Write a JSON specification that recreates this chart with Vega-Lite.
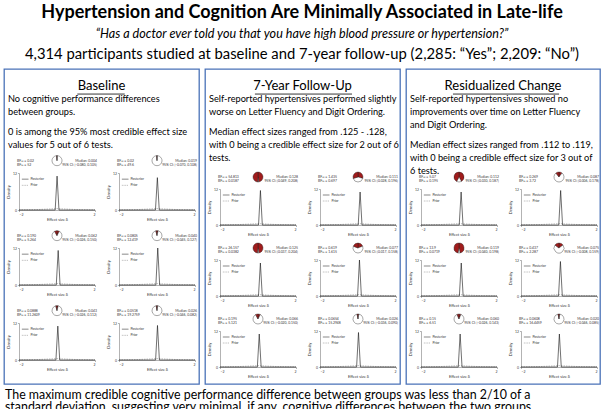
{
  "$schema": "https://vega.github.io/schema/vega-lite/v6.json",
  "background": "white",
  "padding": {"left": 3, "top": 2, "right": 0, "bottom": 0},
  "config": {
    "font": "Lato",
    "view": {"stroke": null},
    "header": {"labels": false, "title": null},
    "headerFacet": {"labels": false, "title": null},
    "axis": {"labelFontSize": 3.5, "titleFontSize": 4, "labelColor": "#444", "titleColor": "#333", "domainColor": "#666", "tickColor": "#666", "tickSize": 1.5, "labelPadding": 1, "titlePadding": 1.5, "domainWidth": 0.5, "tickWidth": 0.5, "grid": false, "titleFontWeight": "normal"}
  },
  "datasets": {
    "hdr": [
      {"line": 1, "text": "Hypertension and Cognition Are Minimally Associated in Late-life"},
      {"line": 2, "text": "“Has a doctor ever told you that you have high blood pressure or hypertension?”"},
      {"line": 3, "text": "4,314 participants studied at baseline and 7-year follow-up (2,285: “Yes”; 2,209: “No”)"}
    ],
    "ptext": [
      {"panel": "B", "line": 0, "para": 0, "text": "Baseline"},
      {"panel": "B", "line": 1, "para": 1, "text": "No cognitive performance differences"},
      {"panel": "B", "line": 2, "para": 1, "text": "between groups."},
      {"panel": "B", "line": 3, "para": 2, "text": "0 is among the 95% most credible effect size"},
      {"panel": "B", "line": 4, "para": 2, "text": "values for 5 out of 6 tests."},
      {"panel": "F", "line": 0, "para": 0, "text": "7-Year Follow-Up"},
      {"panel": "F", "line": 1, "para": 1, "text": "Self-reported hypertensives performed slightly"},
      {"panel": "F", "line": 2, "para": 1, "text": "worse on Letter Fluency and Digit Ordering."},
      {"panel": "F", "line": 3, "para": 2, "text": "Median effect sizes ranged from .125 - .128,"},
      {"panel": "F", "line": 4, "para": 2, "text": "with 0 being a credible effect size for 2 out of 6"},
      {"panel": "F", "line": 5, "para": 2, "text": "tests."},
      {"panel": "R", "line": 0, "para": 0, "text": "Residualized Change"},
      {"panel": "R", "line": 1, "para": 1, "text": "Self-reported hypertensives showed no"},
      {"panel": "R", "line": 2, "para": 1, "text": "improvements over time on Letter Fluency"},
      {"panel": "R", "line": 3, "para": 1, "text": "and Digit Ordering."},
      {"panel": "R", "line": 4, "para": 2, "text": "Median effect sizes ranged from .112 to .119,"},
      {"panel": "R", "line": 5, "para": 2, "text": "with 0 being a credible effect size for 3 out of"},
      {"panel": "R", "line": 6, "para": 2, "text": "6 tests."}
    ],
    "foot": [
      {"line": 1, "text": "The maximum credible cognitive performance difference between groups was less than 2/10 of a"},
      {"line": 2, "text": "standard deviation, suggesting very minimal, if any, cognitive differences between the two groups."}
    ],
    "plots": [
      {"p":"B","t":1,"k":"st","bf":"BF₁₀ = 0.02\nBF₀₁ = 52","md":"Median: 0.004\n95% CI: [-0.080, 0.105]"},
      {"p":"B","t":2,"k":"st","bf":"BF₁₀ = 0.02\nBF₀₁ = 49.6","md":"Median: 0.019\n95% CI: [-0.070, 0.108]"},
      {"p":"B","t":3,"k":"st","bf":"BF₁₀ = 0.190\nBF₀₁ = 5.264","md":"Median: 0.062\n95% CI: [-0.026, 0.150]"},
      {"p":"B","t":4,"k":"st","bf":"BF₁₀ = 0.0805\nBF₀₁ = 12.419","md":"Median: 0.040\n95% CI: [-0.045, 0.127]"},
      {"p":"B","t":5,"k":"st","bf":"BF₁₀ = 0.0888\nBF₀₁ = 11.2609","md":"Median: 0.043\n95% CI: [-0.026, 0.112]"},
      {"p":"B","t":6,"k":"st","bf":"BF₁₀ = 0.0518\nBF₀₁ = 19.2759","md":"Median: 0.026\n95% CI: [-0.046, 0.082]"},
      {"p":"F","t":1,"k":"st","bf":"BF₁₀ = 54.813\nBF₀₁ = 0.0187","md":"Median: 0.128\n95% CI: [0.049, 0.208]"},
      {"p":"F","t":2,"k":"st","bf":"BF₁₀ = 1.435\nBF₀₁ = 0.697","md":"Median: 0.111\n95% CI: [0.028, 0.196]"},
      {"p":"F","t":3,"k":"st","bf":"BF₁₀ = 26.157\nBF₀₁ = 0.0382","md":"Median: 0.125\n95% CI: [0.037, 0.204]"},
      {"p":"F","t":4,"k":"st","bf":"BF₁₀ = 0.619\nBF₀₁ = 1.615","md":"Median: 0.077\n95% CI: [0.017, 0.158]"},
      {"p":"F","t":5,"k":"st","bf":"BF₁₀ = 0.195\nBF₀₁ = 5.121","md":"Median: 0.066\n95% CI: [-0.020, 0.150]"},
      {"p":"F","t":6,"k":"st","bf":"BF₁₀ = 0.0654\nBF₀₁ = 15.2948","md":"Median: 0.026\n95% CI: [-0.036, 0.090]"},
      {"p":"R","t":1,"k":"st","bf":"BF₁₀ = 5.07\nBF₀₁ = 0.195","md":"Median: 0.112\n95% CI: [0.030, 0.187]"},
      {"p":"R","t":2,"k":"st","bf":"BF₁₀ = 0.269\nBF₀₁ = 3.72","md":"Median: 0.087\n95% CI: [0.006, 0.178]"},
      {"p":"R","t":3,"k":"st","bf":"BF₁₀ = 13.9\nBF₀₁ = 0.0719","md":"Median: 0.119\n95% CI: [0.040, 0.198]"},
      {"p":"R","t":4,"k":"st","bf":"BF₁₀ = 0.437\nBF₀₁ = 2.287","md":"Median: 0.075\n95% CI: [-0.008, 0.159]"},
      {"p":"R","t":5,"k":"st","bf":"BF₁₀ = 0.15\nBF₀₁ = 6.51","md":"Median: 0.060\n95% CI: [-0.026, 0.143]"},
      {"p":"R","t":6,"k":"st","bf":"BF₁₀ = 0.0608\nBF₀₁ = 16.4459","md":"Median: 0.020\n95% CI: [-0.046, 0.085]"},

      {"p":"B","t":1,"k":"po","x":-2,"y":0},{"p":"B","t":1,"k":"po","x":-0.096,"y":0},{"p":"B","t":1,"k":"po","x":0.004,"y":11},{"p":"B","t":1,"k":"po","x":0.104,"y":0},{"p":"B","t":1,"k":"po","x":2,"y":0},
      {"p":"B","t":2,"k":"po","x":-2,"y":0},{"p":"B","t":2,"k":"po","x":-0.081,"y":0},{"p":"B","t":2,"k":"po","x":0.019,"y":10.5},{"p":"B","t":2,"k":"po","x":0.119,"y":0},{"p":"B","t":2,"k":"po","x":2,"y":0},
      {"p":"B","t":3,"k":"po","x":-2,"y":0},{"p":"B","t":3,"k":"po","x":-0.038,"y":0},{"p":"B","t":3,"k":"po","x":0.062,"y":11.2},{"p":"B","t":3,"k":"po","x":0.162,"y":0},{"p":"B","t":3,"k":"po","x":2,"y":0},
      {"p":"B","t":4,"k":"po","x":-2,"y":0},{"p":"B","t":4,"k":"po","x":-0.06,"y":0},{"p":"B","t":4,"k":"po","x":0.04,"y":12},{"p":"B","t":4,"k":"po","x":0.14,"y":0},{"p":"B","t":4,"k":"po","x":2,"y":0},
      {"p":"B","t":5,"k":"po","x":-2,"y":0},{"p":"B","t":5,"k":"po","x":-0.057,"y":0},{"p":"B","t":5,"k":"po","x":0.043,"y":11},{"p":"B","t":5,"k":"po","x":0.143,"y":0},{"p":"B","t":5,"k":"po","x":2,"y":0},
      {"p":"B","t":6,"k":"po","x":-2,"y":0},{"p":"B","t":6,"k":"po","x":-0.074,"y":0},{"p":"B","t":6,"k":"po","x":0.026,"y":11.2},{"p":"B","t":6,"k":"po","x":0.126,"y":0},{"p":"B","t":6,"k":"po","x":2,"y":0},
      {"p":"F","t":1,"k":"po","x":-2,"y":0},{"p":"F","t":1,"k":"po","x":0.028,"y":0},{"p":"F","t":1,"k":"po","x":0.128,"y":11.5},{"p":"F","t":1,"k":"po","x":0.228,"y":0},{"p":"F","t":1,"k":"po","x":2,"y":0},
      {"p":"F","t":2,"k":"po","x":-2,"y":0},{"p":"F","t":2,"k":"po","x":0.011,"y":0},{"p":"F","t":2,"k":"po","x":0.111,"y":11},{"p":"F","t":2,"k":"po","x":0.211,"y":0},{"p":"F","t":2,"k":"po","x":2,"y":0},
      {"p":"F","t":3,"k":"po","x":-2,"y":0},{"p":"F","t":3,"k":"po","x":0.025,"y":0},{"p":"F","t":3,"k":"po","x":0.125,"y":11},{"p":"F","t":3,"k":"po","x":0.225,"y":0},{"p":"F","t":3,"k":"po","x":2,"y":0},
      {"p":"F","t":4,"k":"po","x":-2,"y":0},{"p":"F","t":4,"k":"po","x":-0.023,"y":0},{"p":"F","t":4,"k":"po","x":0.077,"y":12},{"p":"F","t":4,"k":"po","x":0.177,"y":0},{"p":"F","t":4,"k":"po","x":2,"y":0},
      {"p":"F","t":5,"k":"po","x":-2,"y":0},{"p":"F","t":5,"k":"po","x":-0.034,"y":0},{"p":"F","t":5,"k":"po","x":0.066,"y":11},{"p":"F","t":5,"k":"po","x":0.166,"y":0},{"p":"F","t":5,"k":"po","x":2,"y":0},
      {"p":"F","t":6,"k":"po","x":-2,"y":0},{"p":"F","t":6,"k":"po","x":-0.074,"y":0},{"p":"F","t":6,"k":"po","x":0.026,"y":11.5},{"p":"F","t":6,"k":"po","x":0.126,"y":0},{"p":"F","t":6,"k":"po","x":2,"y":0},
      {"p":"R","t":1,"k":"po","x":-2,"y":0},{"p":"R","t":1,"k":"po","x":0.012,"y":0},{"p":"R","t":1,"k":"po","x":0.112,"y":11},{"p":"R","t":1,"k":"po","x":0.212,"y":0},{"p":"R","t":1,"k":"po","x":2,"y":0},
      {"p":"R","t":2,"k":"po","x":-2,"y":0},{"p":"R","t":2,"k":"po","x":-0.013,"y":0},{"p":"R","t":2,"k":"po","x":0.087,"y":11.5},{"p":"R","t":2,"k":"po","x":0.187,"y":0},{"p":"R","t":2,"k":"po","x":2,"y":0},
      {"p":"R","t":3,"k":"po","x":-2,"y":0},{"p":"R","t":3,"k":"po","x":0.019,"y":0},{"p":"R","t":3,"k":"po","x":0.119,"y":11},{"p":"R","t":3,"k":"po","x":0.219,"y":0},{"p":"R","t":3,"k":"po","x":2,"y":0},
      {"p":"R","t":4,"k":"po","x":-2,"y":0},{"p":"R","t":4,"k":"po","x":-0.025,"y":0},{"p":"R","t":4,"k":"po","x":0.075,"y":11.5},{"p":"R","t":4,"k":"po","x":0.175,"y":0},{"p":"R","t":4,"k":"po","x":2,"y":0},
      {"p":"R","t":5,"k":"po","x":-2,"y":0},{"p":"R","t":5,"k":"po","x":-0.04,"y":0},{"p":"R","t":5,"k":"po","x":0.06,"y":11},{"p":"R","t":5,"k":"po","x":0.16,"y":0},{"p":"R","t":5,"k":"po","x":2,"y":0},
      {"p":"R","t":6,"k":"po","x":-2,"y":0},{"p":"R","t":6,"k":"po","x":-0.08,"y":0},{"p":"R","t":6,"k":"po","x":0.02,"y":11},{"p":"R","t":6,"k":"po","x":0.12,"y":0},{"p":"R","t":6,"k":"po","x":2,"y":0},

      {"p":"B","t":1,"k":"pr","x":-2,"y":0.05},{"p":"B","t":1,"k":"pr","x":-1,"y":0.15},{"p":"B","t":1,"k":"pr","x":0,"y":0.45},{"p":"B","t":1,"k":"pr","x":1,"y":0.15},{"p":"B","t":1,"k":"pr","x":2,"y":0.05},
      {"p":"B","t":2,"k":"pr","x":-2,"y":0.05},{"p":"B","t":2,"k":"pr","x":-1,"y":0.15},{"p":"B","t":2,"k":"pr","x":0,"y":0.45},{"p":"B","t":2,"k":"pr","x":1,"y":0.15},{"p":"B","t":2,"k":"pr","x":2,"y":0.05},
      {"p":"B","t":3,"k":"pr","x":-2,"y":0.05},{"p":"B","t":3,"k":"pr","x":-1,"y":0.15},{"p":"B","t":3,"k":"pr","x":0,"y":0.45},{"p":"B","t":3,"k":"pr","x":1,"y":0.15},{"p":"B","t":3,"k":"pr","x":2,"y":0.05},
      {"p":"B","t":4,"k":"pr","x":-2,"y":0.05},{"p":"B","t":4,"k":"pr","x":-1,"y":0.15},{"p":"B","t":4,"k":"pr","x":0,"y":0.45},{"p":"B","t":4,"k":"pr","x":1,"y":0.15},{"p":"B","t":4,"k":"pr","x":2,"y":0.05},
      {"p":"B","t":5,"k":"pr","x":-2,"y":0.05},{"p":"B","t":5,"k":"pr","x":-1,"y":0.15},{"p":"B","t":5,"k":"pr","x":0,"y":0.45},{"p":"B","t":5,"k":"pr","x":1,"y":0.15},{"p":"B","t":5,"k":"pr","x":2,"y":0.05},
      {"p":"B","t":6,"k":"pr","x":-2,"y":0.05},{"p":"B","t":6,"k":"pr","x":-1,"y":0.15},{"p":"B","t":6,"k":"pr","x":0,"y":0.45},{"p":"B","t":6,"k":"pr","x":1,"y":0.15},{"p":"B","t":6,"k":"pr","x":2,"y":0.05},
      {"p":"F","t":1,"k":"pr","x":-2,"y":0.05},{"p":"F","t":1,"k":"pr","x":-1,"y":0.15},{"p":"F","t":1,"k":"pr","x":0,"y":0.45},{"p":"F","t":1,"k":"pr","x":1,"y":0.15},{"p":"F","t":1,"k":"pr","x":2,"y":0.05},
      {"p":"F","t":2,"k":"pr","x":-2,"y":0.05},{"p":"F","t":2,"k":"pr","x":-1,"y":0.15},{"p":"F","t":2,"k":"pr","x":0,"y":0.45},{"p":"F","t":2,"k":"pr","x":1,"y":0.15},{"p":"F","t":2,"k":"pr","x":2,"y":0.05},
      {"p":"F","t":3,"k":"pr","x":-2,"y":0.05},{"p":"F","t":3,"k":"pr","x":-1,"y":0.15},{"p":"F","t":3,"k":"pr","x":0,"y":0.45},{"p":"F","t":3,"k":"pr","x":1,"y":0.15},{"p":"F","t":3,"k":"pr","x":2,"y":0.05},
      {"p":"F","t":4,"k":"pr","x":-2,"y":0.05},{"p":"F","t":4,"k":"pr","x":-1,"y":0.15},{"p":"F","t":4,"k":"pr","x":0,"y":0.45},{"p":"F","t":4,"k":"pr","x":1,"y":0.15},{"p":"F","t":4,"k":"pr","x":2,"y":0.05},
      {"p":"F","t":5,"k":"pr","x":-2,"y":0.05},{"p":"F","t":5,"k":"pr","x":-1,"y":0.15},{"p":"F","t":5,"k":"pr","x":0,"y":0.45},{"p":"F","t":5,"k":"pr","x":1,"y":0.15},{"p":"F","t":5,"k":"pr","x":2,"y":0.05},
      {"p":"F","t":6,"k":"pr","x":-2,"y":0.05},{"p":"F","t":6,"k":"pr","x":-1,"y":0.15},{"p":"F","t":6,"k":"pr","x":0,"y":0.45},{"p":"F","t":6,"k":"pr","x":1,"y":0.15},{"p":"F","t":6,"k":"pr","x":2,"y":0.05},
      {"p":"R","t":1,"k":"pr","x":-2,"y":0.05},{"p":"R","t":1,"k":"pr","x":-1,"y":0.15},{"p":"R","t":1,"k":"pr","x":0,"y":0.45},{"p":"R","t":1,"k":"pr","x":1,"y":0.15},{"p":"R","t":1,"k":"pr","x":2,"y":0.05},
      {"p":"R","t":2,"k":"pr","x":-2,"y":0.05},{"p":"R","t":2,"k":"pr","x":-1,"y":0.15},{"p":"R","t":2,"k":"pr","x":0,"y":0.45},{"p":"R","t":2,"k":"pr","x":1,"y":0.15},{"p":"R","t":2,"k":"pr","x":2,"y":0.05},
      {"p":"R","t":3,"k":"pr","x":-2,"y":0.05},{"p":"R","t":3,"k":"pr","x":-1,"y":0.15},{"p":"R","t":3,"k":"pr","x":0,"y":0.45},{"p":"R","t":3,"k":"pr","x":1,"y":0.15},{"p":"R","t":3,"k":"pr","x":2,"y":0.05},
      {"p":"R","t":4,"k":"pr","x":-2,"y":0.05},{"p":"R","t":4,"k":"pr","x":-1,"y":0.15},{"p":"R","t":4,"k":"pr","x":0,"y":0.45},{"p":"R","t":4,"k":"pr","x":1,"y":0.15},{"p":"R","t":4,"k":"pr","x":2,"y":0.05},
      {"p":"R","t":5,"k":"pr","x":-2,"y":0.05},{"p":"R","t":5,"k":"pr","x":-1,"y":0.15},{"p":"R","t":5,"k":"pr","x":0,"y":0.45},{"p":"R","t":5,"k":"pr","x":1,"y":0.15},{"p":"R","t":5,"k":"pr","x":2,"y":0.05},
      {"p":"R","t":6,"k":"pr","x":-2,"y":0.05},{"p":"R","t":6,"k":"pr","x":-1,"y":0.15},{"p":"R","t":6,"k":"pr","x":0,"y":0.45},{"p":"R","t":6,"k":"pr","x":1,"y":0.15},{"p":"R","t":6,"k":"pr","x":2,"y":0.05},

      {"p":"B","t":1,"k":"pie","sl":"a","s":0.01},{"p":"B","t":1,"k":"pie","sl":"b","s":0.98},{"p":"B","t":1,"k":"pie","sl":"c","s":0.01},
      {"p":"B","t":2,"k":"pie","sl":"a","s":0.01},{"p":"B","t":2,"k":"pie","sl":"b","s":0.98},{"p":"B","t":2,"k":"pie","sl":"c","s":0.01},
      {"p":"B","t":3,"k":"pie","sl":"a","s":0.08},{"p":"B","t":3,"k":"pie","sl":"b","s":0.84},{"p":"B","t":3,"k":"pie","sl":"c","s":0.08},
      {"p":"B","t":4,"k":"pie","sl":"a","s":0.0375},{"p":"B","t":4,"k":"pie","sl":"b","s":0.925},{"p":"B","t":4,"k":"pie","sl":"c","s":0.0375},
      {"p":"B","t":5,"k":"pie","sl":"a","s":0.04},{"p":"B","t":5,"k":"pie","sl":"b","s":0.92},{"p":"B","t":5,"k":"pie","sl":"c","s":0.04},
      {"p":"B","t":6,"k":"pie","sl":"a","s":0.025},{"p":"B","t":6,"k":"pie","sl":"b","s":0.95},{"p":"B","t":6,"k":"pie","sl":"c","s":0.025},
      {"p":"F","t":1,"k":"pie","sl":"a","s":0.49},{"p":"F","t":1,"k":"pie","sl":"b","s":0.02},{"p":"F","t":1,"k":"pie","sl":"c","s":0.49},
      {"p":"F","t":2,"k":"pie","sl":"a","s":0.295},{"p":"F","t":2,"k":"pie","sl":"b","s":0.41},{"p":"F","t":2,"k":"pie","sl":"c","s":0.295},
      {"p":"F","t":3,"k":"pie","sl":"a","s":0.48},{"p":"F","t":3,"k":"pie","sl":"b","s":0.04},{"p":"F","t":3,"k":"pie","sl":"c","s":0.48},
      {"p":"F","t":4,"k":"pie","sl":"a","s":0.19},{"p":"F","t":4,"k":"pie","sl":"b","s":0.62},{"p":"F","t":4,"k":"pie","sl":"c","s":0.19},
      {"p":"F","t":5,"k":"pie","sl":"a","s":0.08},{"p":"F","t":5,"k":"pie","sl":"b","s":0.84},{"p":"F","t":5,"k":"pie","sl":"c","s":0.08},
      {"p":"F","t":6,"k":"pie","sl":"a","s":0.03},{"p":"F","t":6,"k":"pie","sl":"b","s":0.94},{"p":"F","t":6,"k":"pie","sl":"c","s":0.03},
      {"p":"R","t":1,"k":"pie","sl":"a","s":0.42},{"p":"R","t":1,"k":"pie","sl":"b","s":0.16},{"p":"R","t":1,"k":"pie","sl":"c","s":0.42},
      {"p":"R","t":2,"k":"pie","sl":"a","s":0.105},{"p":"R","t":2,"k":"pie","sl":"b","s":0.79},{"p":"R","t":2,"k":"pie","sl":"c","s":0.105},
      {"p":"R","t":3,"k":"pie","sl":"a","s":0.465},{"p":"R","t":3,"k":"pie","sl":"b","s":0.07},{"p":"R","t":3,"k":"pie","sl":"c","s":0.465},
      {"p":"R","t":4,"k":"pie","sl":"a","s":0.15},{"p":"R","t":4,"k":"pie","sl":"b","s":0.70},{"p":"R","t":4,"k":"pie","sl":"c","s":0.15},
      {"p":"R","t":5,"k":"pie","sl":"a","s":0.065},{"p":"R","t":5,"k":"pie","sl":"b","s":0.87},{"p":"R","t":5,"k":"pie","sl":"c","s":0.065},
      {"p":"R","t":6,"k":"pie","sl":"a","s":0.03},{"p":"R","t":6,"k":"pie","sl":"b","s":0.94},{"p":"R","t":6,"k":"pie","sl":"c","s":0.03}
    ]
  },
  "spacing": 3,
  "vconcat": [
    {
      "width": 596, "height": 63,
      "data": {"name": "hdr"},
      "encoding": {"y": {"field": "line", "type": "ordinal", "axis": null, "scale": {"paddingInner": 0, "paddingOuter": 0}}},
      "layer": [
        {"transform": [{"filter": "datum.line == 1"}], "mark": {"type": "text", "fontSize": 18, "fontWeight": "bold", "color": "black"}, "encoding": {"text": {"field": "text"}}},
        {"transform": [{"filter": "datum.line == 2"}], "mark": {"type": "text", "fontSize": 12.6, "fontStyle": "italic", "color": "black"}, "encoding": {"text": {"field": "text"}}},
        {"transform": [{"filter": "datum.line == 3"}], "mark": {"type": "text", "fontSize": 14.8, "color": "black"}, "encoding": {"text": {"field": "text"}}}
      ]
    },
    {
      "spacing": 4,
      "align": "none",
      "hconcat": [
        {
          "spacing": -231, "align": "none",
          "vconcat": [
            {
              "width": 195, "height": 315,
              "view": {"stroke": "#4a72b8", "strokeWidth": 1.3},
              "data": {"name": "ptext"},
              "transform": [{"filter": "datum.panel == 'B'"}],
              "encoding": {"y": {"field": "line", "type": "quantitative", "scale": {"domain": [-1.3077, 22.923], "reverse": true}, "axis": null}},
              "layer": [
                {"transform": [{"filter": "datum.para == 0"}], "mark": {"type": "text", "fontSize": 13, "color": "black"}, "encoding": {"text": {"field": "text"}}},
                {"transform": [{"filter": "datum.para == 0"}], "mark": {"type": "rule", "color": "black", "strokeWidth": 0.8}, "encoding": {"x": {"datum": 0.376, "type": "quantitative", "scale": {"domain": [0, 1]}, "axis": null}, "x2": {"datum": 0.619}, "y": {"datum": 0.62}}},
                {"transform": [{"filter": "datum.para == 1"}], "mark": {"type": "text", "align": "left", "fontSize": 9.2, "dx": 4, "color": "black"}, "encoding": {"x": {"datum": 0}, "text": {"field": "text"}}},
                {"transform": [{"filter": "datum.para == 2"}], "mark": {"type": "text", "align": "left", "fontSize": 9.2, "dx": 4, "dy": 7, "color": "black"}, "encoding": {"x": {"datum": 0}, "text": {"field": "text"}}}
              ]
            },
            {
              "spacing": 1, "align": "none",
              "hconcat": [
                {"width": 1, "height": 1, "data": {"values": [{"v": 0}]}, "mark": {"type": "text", "text": " "}, "encoding": {}},
                {
                  "data": {"name": "plots"},
                  "transform": [{"filter": "datum.p == 'B'"}],
                  "facet": {"field": "t", "type": "ordinal", "header": {"labels": false, "title": null, "labelExpr": "''", "labelFontSize": 0.1, "labelPadding": 0}},
                  "columns": 2,
                  "spacing": {"row": 7, "column": 9},
                  "resolve": {"axis": {"x": "independent", "y": "independent"}},
                  "spec": {
                    "width": 76, "height": 37,
                    "layer": [
                      {"transform": [{"filter": "datum.k == 'pr'"}], "mark": {"type": "line", "strokeDash": [1.5, 1], "color": "#777", "strokeWidth": 0.5}, "encoding": {"x": {"field": "x", "type": "quantitative", "scale": {"domain": [-2, 2]}, "axis": {"values": [-2, -1, 0, 1, 2], "title": "Effect size δ"}}, "y": {"field": "y", "type": "quantitative", "scale": {"domain": [0, 12]}, "axis": {"values": [0, 2, 4, 6, 8, 10, 12], "title": "Density"}}}},
                      {"transform": [{"filter": "datum.k == 'po'"}], "mark": {"type": "line", "color": "#111", "strokeWidth": 0.6}, "encoding": {"x": {"field": "x", "type": "quantitative"}, "y": {"field": "y", "type": "quantitative"}}},
                      {"transform": [{"filter": "datum.k == 'pie'"}], "mark": {"type": "arc", "radius": 5, "stroke": "#222", "strokeWidth": 0.4}, "encoding": {"x": {"datum": 0, "type": "quantitative"}, "y": {"datum": 16, "type": "quantitative"}, "theta": {"field": "s", "type": "quantitative", "stack": true}, "color": {"field": "sl", "type": "nominal", "scale": {"domain": ["a", "b", "c"], "range": ["#a01c1c", "#ffffff", "#a01c1c"]}, "legend": null}, "order": {"field": "sl"}}},
                      {"transform": [{"filter": "datum.k == 'st'"}], "mark": {"type": "text", "align": "left", "baseline": "middle", "fontSize": 3.4, "lineBreak": "\n", "lineHeight": 4.2, "color": "#333"}, "encoding": {"x": {"datum": -2.1, "type": "quantitative"}, "y": {"datum": 16, "type": "quantitative"}, "text": {"field": "bf"}}},
                      {"transform": [{"filter": "datum.k == 'st'"}], "mark": {"type": "text", "align": "right", "baseline": "middle", "fontSize": 3.4, "lineBreak": "\n", "lineHeight": 4.2, "color": "#333"}, "encoding": {"x": {"datum": 2.1, "type": "quantitative"}, "y": {"datum": 16, "type": "quantitative"}, "text": {"field": "md"}}},
                      {"transform": [{"filter": "datum.k == 'st'"}], "mark": {"type": "rule", "color": "#111", "strokeWidth": 0.5}, "encoding": {"x": {"datum": -1.85, "type": "quantitative"}, "x2": {"datum": -1.5}, "y": {"datum": 10, "type": "quantitative"}}},
                      {"transform": [{"filter": "datum.k == 'st'"}], "mark": {"type": "rule", "color": "#777", "strokeWidth": 0.5, "strokeDash": [1, 0.7]}, "encoding": {"x": {"datum": -1.85, "type": "quantitative"}, "x2": {"datum": -1.5}, "y": {"datum": 8, "type": "quantitative"}}},
                      {"transform": [{"filter": "datum.k == 'st'"}], "mark": {"type": "text", "align": "left", "baseline": "middle", "fontSize": 3.4, "color": "#333", "text": "Posterior"}, "encoding": {"x": {"datum": -1.4, "type": "quantitative"}, "y": {"datum": 10, "type": "quantitative"}}},
                      {"transform": [{"filter": "datum.k == 'st'"}], "mark": {"type": "text", "align": "left", "baseline": "middle", "fontSize": 3.4, "color": "#333", "text": "Prior"}, "encoding": {"x": {"datum": -1.4, "type": "quantitative"}, "y": {"datum": 8, "type": "quantitative"}}}
                    ]
                  }
                }
              ]
            }
          ]
        },
        {
          "spacing": -214, "align": "none",
          "vconcat": [
            {
              "width": 195, "height": 315,
              "view": {"stroke": "#4a72b8", "strokeWidth": 1.3},
              "data": {"name": "ptext"},
              "transform": [{"filter": "datum.panel == 'F'"}],
              "encoding": {"y": {"field": "line", "type": "quantitative", "scale": {"domain": [-1.3077, 22.923], "reverse": true}, "axis": null}},
              "layer": [
                {"transform": [{"filter": "datum.para == 0"}], "mark": {"type": "text", "fontSize": 13, "color": "black"}, "encoding": {"text": {"field": "text"}}},
                {"transform": [{"filter": "datum.para == 0"}], "mark": {"type": "rule", "color": "black", "strokeWidth": 0.8}, "encoding": {"x": {"datum": 0.256, "type": "quantitative", "scale": {"domain": [0, 1]}, "axis": null}, "x2": {"datum": 0.754}, "y": {"datum": 0.62}}},
                {"transform": [{"filter": "datum.para == 1"}], "mark": {"type": "text", "align": "left", "fontSize": 9.2, "dx": 4, "color": "black"}, "encoding": {"x": {"datum": 0}, "text": {"field": "text"}}},
                {"transform": [{"filter": "datum.para == 2"}], "mark": {"type": "text", "align": "left", "fontSize": 9.2, "dx": 4, "dy": 7, "color": "black"}, "encoding": {"x": {"datum": 0}, "text": {"field": "text"}}}
              ]
            },
            {
              "spacing": 1, "align": "none",
              "hconcat": [
                {"width": 1, "height": 1, "data": {"values": [{"v": 0}]}, "mark": {"type": "text", "text": " "}, "encoding": {}},
                {
                  "data": {"name": "plots"},
                  "transform": [{"filter": "datum.p == 'F'"}],
                  "facet": {"field": "t", "type": "ordinal", "header": {"labels": false, "title": null, "labelExpr": "''", "labelFontSize": 0.1, "labelPadding": 0}},
                  "columns": 2,
                  "spacing": {"row": 5, "column": 9},
                  "resolve": {"axis": {"x": "independent", "y": "independent"}},
                  "spec": {
                    "width": 76, "height": 36,
                    "layer": [
                      {"transform": [{"filter": "datum.k == 'pr'"}], "mark": {"type": "line", "strokeDash": [1.5, 1], "color": "#777", "strokeWidth": 0.5}, "encoding": {"x": {"field": "x", "type": "quantitative", "scale": {"domain": [-2, 2]}, "axis": {"values": [-2, -1, 0, 1, 2], "title": "Effect size δ"}}, "y": {"field": "y", "type": "quantitative", "scale": {"domain": [0, 12]}, "axis": {"values": [0, 2, 4, 6, 8, 10, 12], "title": "Density"}}}},
                      {"transform": [{"filter": "datum.k == 'po'"}], "mark": {"type": "line", "color": "#111", "strokeWidth": 0.6}, "encoding": {"x": {"field": "x", "type": "quantitative"}, "y": {"field": "y", "type": "quantitative"}}},
                      {"transform": [{"filter": "datum.k == 'pie'"}], "mark": {"type": "arc", "radius": 5, "stroke": "#222", "strokeWidth": 0.4}, "encoding": {"x": {"datum": 0, "type": "quantitative"}, "y": {"datum": 16, "type": "quantitative"}, "theta": {"field": "s", "type": "quantitative", "stack": true}, "color": {"field": "sl", "type": "nominal", "scale": {"domain": ["a", "b", "c"], "range": ["#a01c1c", "#ffffff", "#a01c1c"]}, "legend": null}, "order": {"field": "sl"}}},
                      {"transform": [{"filter": "datum.k == 'st'"}], "mark": {"type": "text", "align": "left", "baseline": "middle", "fontSize": 3.4, "lineBreak": "\n", "lineHeight": 4.2, "color": "#333"}, "encoding": {"x": {"datum": -2.1, "type": "quantitative"}, "y": {"datum": 16, "type": "quantitative"}, "text": {"field": "bf"}}},
                      {"transform": [{"filter": "datum.k == 'st'"}], "mark": {"type": "text", "align": "right", "baseline": "middle", "fontSize": 3.4, "lineBreak": "\n", "lineHeight": 4.2, "color": "#333"}, "encoding": {"x": {"datum": 2.1, "type": "quantitative"}, "y": {"datum": 16, "type": "quantitative"}, "text": {"field": "md"}}},
                      {"transform": [{"filter": "datum.k == 'st'"}], "mark": {"type": "rule", "color": "#111", "strokeWidth": 0.5}, "encoding": {"x": {"datum": -1.85, "type": "quantitative"}, "x2": {"datum": -1.5}, "y": {"datum": 10, "type": "quantitative"}}},
                      {"transform": [{"filter": "datum.k == 'st'"}], "mark": {"type": "rule", "color": "#777", "strokeWidth": 0.5, "strokeDash": [1, 0.7]}, "encoding": {"x": {"datum": -1.85, "type": "quantitative"}, "x2": {"datum": -1.5}, "y": {"datum": 8, "type": "quantitative"}}},
                      {"transform": [{"filter": "datum.k == 'st'"}], "mark": {"type": "text", "align": "left", "baseline": "middle", "fontSize": 3.4, "color": "#333", "text": "Posterior"}, "encoding": {"x": {"datum": -1.4, "type": "quantitative"}, "y": {"datum": 10, "type": "quantitative"}}},
                      {"transform": [{"filter": "datum.k == 'st'"}], "mark": {"type": "text", "align": "left", "baseline": "middle", "fontSize": 3.4, "color": "#333", "text": "Prior"}, "encoding": {"x": {"datum": -1.4, "type": "quantitative"}, "y": {"datum": 8, "type": "quantitative"}}}
                    ]
                  }
                }
              ]
            }
          ]
        },
        {
          "spacing": -214, "align": "none",
          "vconcat": [
            {
              "width": 194, "height": 315,
              "view": {"stroke": "#4a72b8", "strokeWidth": 1.3},
              "data": {"name": "ptext"},
              "transform": [{"filter": "datum.panel == 'R'"}],
              "encoding": {"y": {"field": "line", "type": "quantitative", "scale": {"domain": [-1.3077, 22.923], "reverse": true}, "axis": null}},
              "layer": [
                {"transform": [{"filter": "datum.para == 0"}], "mark": {"type": "text", "fontSize": 13, "color": "black"}, "encoding": {"text": {"field": "text"}}},
                {"transform": [{"filter": "datum.para == 0"}], "mark": {"type": "rule", "color": "black", "strokeWidth": 0.8}, "encoding": {"x": {"datum": 0.242, "type": "quantitative", "scale": {"domain": [0, 1]}, "axis": null}, "x2": {"datum": 0.789}, "y": {"datum": 0.62}}},
                {"transform": [{"filter": "datum.para == 1"}], "mark": {"type": "text", "align": "left", "fontSize": 9.2, "dx": 4, "color": "black"}, "encoding": {"x": {"datum": 0}, "text": {"field": "text"}}},
                {"transform": [{"filter": "datum.para == 2"}], "mark": {"type": "text", "align": "left", "fontSize": 9.2, "dx": 4, "dy": 7, "color": "black"}, "encoding": {"x": {"datum": 0}, "text": {"field": "text"}}}
              ]
            },
            {
              "spacing": 1, "align": "none",
              "hconcat": [
                {"width": 1, "height": 1, "data": {"values": [{"v": 0}]}, "mark": {"type": "text", "text": " "}, "encoding": {}},
                {
                  "data": {"name": "plots"},
                  "transform": [{"filter": "datum.p == 'R'"}],
                  "facet": {"field": "t", "type": "ordinal", "header": {"labels": false, "title": null, "labelExpr": "''", "labelFontSize": 0.1, "labelPadding": 0}},
                  "columns": 2,
                  "spacing": {"row": 5, "column": 9},
                  "resolve": {"axis": {"x": "independent", "y": "independent"}},
                  "spec": {
                    "width": 76, "height": 36,
                    "layer": [
                      {"transform": [{"filter": "datum.k == 'pr'"}], "mark": {"type": "line", "strokeDash": [1.5, 1], "color": "#777", "strokeWidth": 0.5}, "encoding": {"x": {"field": "x", "type": "quantitative", "scale": {"domain": [-2, 2]}, "axis": {"values": [-2, -1, 0, 1, 2], "title": "Effect size δ"}}, "y": {"field": "y", "type": "quantitative", "scale": {"domain": [0, 12]}, "axis": {"values": [0, 2, 4, 6, 8, 10, 12], "title": "Density"}}}},
                      {"transform": [{"filter": "datum.k == 'po'"}], "mark": {"type": "line", "color": "#111", "strokeWidth": 0.6}, "encoding": {"x": {"field": "x", "type": "quantitative"}, "y": {"field": "y", "type": "quantitative"}}},
                      {"transform": [{"filter": "datum.k == 'pie'"}], "mark": {"type": "arc", "radius": 5, "stroke": "#222", "strokeWidth": 0.4}, "encoding": {"x": {"datum": 0, "type": "quantitative"}, "y": {"datum": 16, "type": "quantitative"}, "theta": {"field": "s", "type": "quantitative", "stack": true}, "color": {"field": "sl", "type": "nominal", "scale": {"domain": ["a", "b", "c"], "range": ["#a01c1c", "#ffffff", "#a01c1c"]}, "legend": null}, "order": {"field": "sl"}}},
                      {"transform": [{"filter": "datum.k == 'st'"}], "mark": {"type": "text", "align": "left", "baseline": "middle", "fontSize": 3.4, "lineBreak": "\n", "lineHeight": 4.2, "color": "#333"}, "encoding": {"x": {"datum": -2.1, "type": "quantitative"}, "y": {"datum": 16, "type": "quantitative"}, "text": {"field": "bf"}}},
                      {"transform": [{"filter": "datum.k == 'st'"}], "mark": {"type": "text", "align": "right", "baseline": "middle", "fontSize": 3.4, "lineBreak": "\n", "lineHeight": 4.2, "color": "#333"}, "encoding": {"x": {"datum": 2.1, "type": "quantitative"}, "y": {"datum": 16, "type": "quantitative"}, "text": {"field": "md"}}},
                      {"transform": [{"filter": "datum.k == 'st'"}], "mark": {"type": "rule", "color": "#111", "strokeWidth": 0.5}, "encoding": {"x": {"datum": -1.85, "type": "quantitative"}, "x2": {"datum": -1.5}, "y": {"datum": 10, "type": "quantitative"}}},
                      {"transform": [{"filter": "datum.k == 'st'"}], "mark": {"type": "rule", "color": "#777", "strokeWidth": 0.5, "strokeDash": [1, 0.7]}, "encoding": {"x": {"datum": -1.85, "type": "quantitative"}, "x2": {"datum": -1.5}, "y": {"datum": 8, "type": "quantitative"}}},
                      {"transform": [{"filter": "datum.k == 'st'"}], "mark": {"type": "text", "align": "left", "baseline": "middle", "fontSize": 3.4, "color": "#333", "text": "Posterior"}, "encoding": {"x": {"datum": -1.4, "type": "quantitative"}, "y": {"datum": 10, "type": "quantitative"}}},
                      {"transform": [{"filter": "datum.k == 'st'"}], "mark": {"type": "text", "align": "left", "baseline": "middle", "fontSize": 3.4, "color": "#333", "text": "Prior"}, "encoding": {"x": {"datum": -1.4, "type": "quantitative"}, "y": {"datum": 8, "type": "quantitative"}}}
                    ]
                  }
                }
              ]
            }
          ]
        }
      ]
    },
    {
      "width": 596, "height": 23.6,
      "data": {"name": "foot"},
      "mark": {"type": "text", "align": "left", "fontSize": 12.4, "dx": 1, "dy": -8, "color": "black"},
      "encoding": {
        "y": {"field": "line", "type": "ordinal", "axis": null, "scale": {"paddingInner": 0, "paddingOuter": 0}},
        "x": {"datum": 0, "type": "quantitative", "scale": {"domain": [0, 1]}, "axis": null},
        "text": {"field": "text"}
      }
    }
  ]
}
